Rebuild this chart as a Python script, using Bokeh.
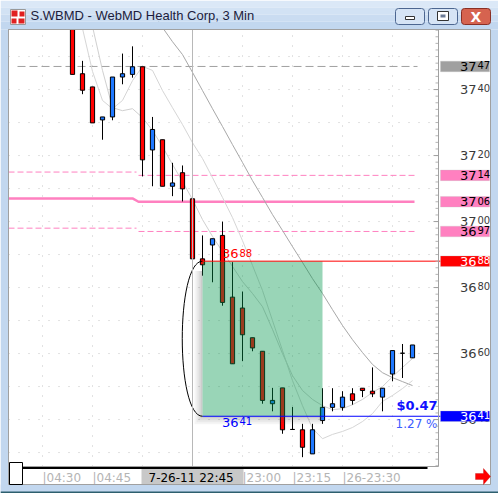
from bokeh.plotting import figure
from bokeh.models import Range1d, BoxAnnotation, Label, PolyAnnotation
from bokeh.core.properties import value
from bokeh.embed import file_html
from bokeh.resources import INLINE

# ---- S.WBMD 3-minute bars (price in cents) ----
bar_index = list(range(35))
open_ = [3760.0, 3744.8, 3740.8, 3730.8, 3731.7, 3743.8, 3744.6, 3746.9, 3721.7, 3724.8,
         3710.7, 3714.8, 3706.9, 3688.7, 3692.9, 3695.8, 3677.1, 3673.8, 3664.8, 3660.7,
         3644.8, 3649.6, 3637.0, 3636.9, 3629.6, 3639.7, 3643.7, 3643.7, 3647.8, 3649.5,
         3648.6, 3646.8, 3653.8, 3660.1, 3658.7]
high = [3760.0, 3748.7, 3740.8, 3731.7, 3743.8, 3750.9, 3753.1, 3746.9, 3731.7, 3724.8,
        3717.8, 3717.0, 3706.9, 3695.8, 3694.8, 3700.0, 3687.7, 3678.8, 3664.8, 3660.7,
        3649.6, 3649.6, 3643.8, 3638.7, 3638.7, 3649.5, 3649.5, 3648.6, 3649.5, 3649.5,
        3655.8, 3649.5, 3660.9, 3662.9, 3662.6]
low = [3744.6, 3738.6, 3729.9, 3724.8, 3730.7, 3741.6, 3743.6, 3713.7, 3710.7, 3710.7,
       3707.7, 3706.1, 3688.7, 3683.6, 3681.6, 3674.5, 3656.9, 3657.7, 3660.7, 3644.8,
       3642.5, 3635.7, 3637.0, 3628.6, 3629.6, 3638.7, 3642.5, 3642.7, 3644.5, 3646.8,
       3646.8, 3642.5, 3651.6, 3652.6, 3658.7]
close = [3744.6, 3739.8, 3729.9, 3731.7, 3743.8, 3744.8, 3746.9, 3718.7, 3727.9, 3710.7,
         3711.7, 3709.9, 3688.7, 3686.9, 3694.8, 3675.5, 3656.9, 3665.7, 3661.7, 3645.8,
         3645.8, 3636.9, 3637.0, 3631.6, 3636.9, 3643.7, 3644.8, 3646.8, 3645.8, 3648.8,
         3647.8, 3649.5, 3660.9, 3660.1, 3662.6]

# ---- moving averages (first bar, values) ----
ma_fast_first = 1
ma_fast = [3758.5, 3745.5, 3736.7, 3734.2, 3736.7, 3742.7, 3747.0, 3745.8, 3739.7, 3734.5,
           3729.4, 3723.9, 3719.1, 3713.3, 3707.3, 3701.2, 3694.2, 3686.7, 3679.1, 3670.0,
           3660.9, 3651.8, 3644.2, 3637.3, 3634.2, 3635.5, 3636.4, 3637.6, 3639.4, 3641.8,
           3645.5, 3647.3, 3649.4, 3651.8]
ma_mid_first = 2
ma_mid = [3759.1, 3745.8, 3734.5, 3733.6, 3734.2, 3731.5, 3727.6, 3722.7, 3717.3, 3712.1,
          3706.7, 3700.6, 3695.5, 3690.9, 3686.4, 3681.8, 3678.2, 3674.2, 3667.3, 3660.0,
          3653.3, 3648.8, 3646.1, 3644.2, 3643.0, 3643.3, 3644.5, 3646.1, 3648.2, 3650.0,
          3653.0, 3655.8, 3658.5]
ma_slow_first = 8
ma_slow = [3763.6, 3758.8, 3754.5, 3750.6, 3745.2, 3739.7, 3734.2, 3728.8, 3723.3, 3717.9,
           3712.4, 3707.3, 3702.1, 3697.3, 3692.4, 3687.6, 3682.7, 3678.2, 3673.3, 3668.5,
           3664.2, 3660.3, 3656.7, 3654.2, 3652.7, 3651.5, 3650.3]

# ---- horizontal levels: today's value and the prior-session value ----
level_prices = [3747, 3714, 3706, 3697]
level_prior = [None, 3715, 3707, 3698]

# ---- measured move ----
move_first_bar, move_last_bar = 13, 25
move_high, move_low = 3688, 3641

# ---- axes ----
price_ticks = [3640, 3660, 3680, 3700, 3720, 3740]
grid_prices = [3630, 3640, 3650, 3660, 3670, 3680, 3690, 3700, 3710, 3720, 3730, 3740, 3750]
grid_bars = [-3, 2, 7, 17, 22, 27, 32]
time_tick_bars = [-3, 2, 17, 22, 27]
time_tick_labels = ["04:30", "04:45", "23:00", "23:15", "26-23:30"]
cursor_bar = 12
cursor_label = "7-26-11 22:45"

TITLE = "S.WBMD - WebMD Health Corp, 3 Min"


# prices are printed as "37" followed by a raised, smaller "40"
def price_parts(v):
    s = str(int(v))
    return s[:2], s[2:]


W, H = 498, 493
# chart pane in page pixels and in bar/price units
PANE_L, PANE_R, PANE_T, PANE_B = 8, 438, 29, 466
BAR_PX, PRICE_PX = 10.0, 3.3
BAR_LEFT = -6.4                      # bar number at the pane's left edge
PRICE_TOP = 3758.2                   # price at the pane's top edge
BAR_RIGHT = BAR_LEFT + (PANE_R - PANE_L) / BAR_PX
PRICE_BOT = PRICE_TOP - (PANE_B - PANE_T) / PRICE_PX


def bar_at(px):
    return BAR_LEFT + (px - PANE_L) / BAR_PX


# the plotting frame covers the whole window; the pane is a region of it
p = figure(width=W, height=H, title=None, output_backend="svg", toolbar_location=None,
           x_range=Range1d(bar_at(0), bar_at(W)),
           y_range=Range1d(PRICE_TOP - (H - PANE_T) / PRICE_PX, PRICE_TOP + PANE_T / PRICE_PX),
           x_axis_type=None, y_axis_type=None, min_border=0,
           min_border_left=0, min_border_right=0, min_border_top=0, min_border_bottom=0)
p.background_fill_color = "white"
p.border_fill_color = "white"
p.outline_line_color = None


def sy(py):
    return H - py


def screen_box(x0, y0, x1, y1, level="overlay", **kw):
    kw.setdefault("line_alpha", 0)
    kw.setdefault("fill_alpha", 1)
    b = BoxAnnotation(left=x0, right=x1, top=sy(y0), bottom=sy(y1),
                      left_units="screen", right_units="screen",
                      top_units="screen", bottom_units="screen", level=level, **kw)
    p.add_layout(b)
    return b


def screen_label(px, py, text, level="overlay", **kw):
    lab = Label(x=px, y=sy(py), x_units="screen", y_units="screen", text=text,
                level=level, **kw)
    p.add_layout(lab)
    return lab


def price_glyph_text(xs, ys, prices, color, big, small, baseline="middle", y_offset=0):
    """Price text as glyphs: xs is where the large digits end."""
    heads = [price_parts(v)[0] for v in prices]
    tails = [price_parts(v)[1] for v in prices]
    p.text(x=xs, y=ys, text=heads, text_color=color, text_font=value("DejaVu Sans"),
           text_font_size=f"{big}px", text_align="right", text_baseline=baseline,
           y_offset=y_offset)
    p.text(x=xs, y=ys, text=tails, text_color=color, text_font=value("DejaVu Sans"),
           text_font_size=f"{small}px", text_align="left", text_baseline=baseline,
           y_offset=y_offset - (big - small) * 0.4, x_offset=1)


# ---- dotted grid, limited to the pane ----
p.segment(x0=[BAR_LEFT] * len(grid_prices), x1=[BAR_RIGHT] * len(grid_prices),
          y0=grid_prices, y1=grid_prices, line_color="#c4c4c4", line_dash="1 9")
p.segment(x0=grid_bars, x1=grid_bars, y0=[PRICE_BOT] * len(grid_bars),
          y1=[PRICE_TOP] * len(grid_bars), line_color="#c4c4c4", line_dash="1 9")

# ---- horizontal levels ----
pink = "#ff80c0"
split_lo, split_hi, right_end = 6.0, 6.6, 34.2
p.line([-5.5, 34.5], [level_prices[0]] * 2, line_color="#a0a0a0", line_dash="8 4")
for i in (1, 3):
    p.line([BAR_LEFT, split_lo + 0.4], [level_prior[i]] * 2, line_color=pink, line_dash="6 3")
    p.line([split_hi, right_end], [level_prices[i]] * 2, line_color=pink, line_dash="6 3")
p.line([BAR_LEFT, split_lo, split_hi, right_end],
       [level_prior[2], level_prior[2], level_prices[2], level_prices[2]],
       line_color=pink, line_width=2.5)

# ---- moving averages ----
for first, vals, col in ((ma_slow_first, ma_slow, "#a8a8a8"),
                         (ma_mid_first, ma_mid, "#d0d0d0"),
                         (ma_fast_first, ma_fast, "#d6d6d6")):
    p.line(list(range(first, first + len(vals))), vals, line_color=col, line_width=1)

# ---- candles ----
colors = ["#1e78ff" if c > o else ("#ff0000" if c < o else "black")
          for o, c in zip(open_, close)]
p.segment(x0=bar_index, y0=high, x1=bar_index, y1=low, line_color="black", line_width=1)
p.vbar(x=bar_index, width=0.42, top=[max(o, c) for o, c in zip(open_, close)],
       bottom=[min(o, c) for o, c in zip(open_, close)],
       fill_color=colors, line_color="black", line_width=1)

# ---- measured-move box with soft shadow ----
shade = [0.30, 0.20, 0.12, 0.06]
for i, a in enumerate(shade):
    p.quad(left=move_first_bar - 0.2 * (i + 1), right=move_first_bar - 0.2 * i,
           top=move_high - 3, bottom=move_low - 0.6 * (i + 1),
           fill_color="#555555", fill_alpha=a, line_alpha=0)
    p.quad(left=move_first_bar - 0.2 * i, right=move_last_bar,
           top=move_low - 0.6 * i, bottom=move_low - 0.6 * (i + 1),
           fill_color="#555555", fill_alpha=a, line_alpha=0)
p.quad(left=move_first_bar, right=move_last_bar, top=move_high, bottom=move_low,
       fill_color=(0, 150, 75), fill_alpha=0.4, line_alpha=0)

p.line([move_first_bar, BAR_RIGHT + 0.2], [move_high] * 2, line_color="#ff0000")
p.line([move_first_bar, BAR_RIGHT + 0.2], [move_low] * 2, line_color="#0000ff")
p.bezier(x0=[move_first_bar], y0=[move_high], x1=[move_first_bar], y1=[move_low],
         cx0=[move_first_bar - 2.7], cy0=[move_high], cx1=[move_first_bar - 2.7],
         cy1=[move_low], line_color="black", line_width=1)

price_glyph_text([bar_at(238)], [move_high], [move_high], "#ff0000", 13, 10,
                 baseline="bottom", y_offset=-3)
price_glyph_text([bar_at(238)], [move_low], [move_low], "#0000ff", 13, 10,
                 baseline="top", y_offset=2)
diff = move_high - move_low
p.text(x=[BAR_RIGHT - 0.1], y=[move_low], text=[f"${diff / 100:.2f}"], text_color="#1010ff",
       text_font=value("DejaVu Sans"), text_font_size="13px", text_font_style="bold",
       text_align="right", text_baseline="bottom", y_offset=-3)
p.text(x=[BAR_RIGHT - 0.1], y=[move_low], text=[f"{diff / move_high * 100:.2f} %"],
       text_color="#3c5cff", text_font=value("DejaVu Sans"), text_font_size="12px",
       text_align="right", text_baseline="top", y_offset=1)

# ---- cursor line ----
p.segment(x0=[cursor_bar], x1=[cursor_bar], y0=[PRICE_BOT], y1=[PRICE_TOP],
          line_color="#b8b8b8", line_width=1)

# ---- price scale on the right of the pane ----
minor = [v for v in range(3626, 3759, 2)]
p.segment(x0=[BAR_RIGHT - 0.3] * len(minor), x1=[BAR_RIGHT] * len(minor),
          y0=minor, y1=minor, line_color="#b4b4b4")
p.segment(x0=[BAR_RIGHT - 0.5] * len(price_ticks), x1=[BAR_RIGHT] * len(price_ticks),
          y0=price_ticks, y1=price_ticks, line_color="#a0a0a0")
price_glyph_text([bar_at(476)] * len(price_ticks), price_ticks, price_ticks, "#3a3a3a", 13, 10)

# value boxes on the price scale
boxes = [(level_prices[0], "#a0a0a0", "black"), (level_prices[1], pink, "black"),
         (level_prices[2], pink, "black"), (level_prices[3], pink, "black"),
         (move_high, "#ff0000", "white"), (move_low, "#0000ff", "white")]
for v, fill, tc in boxes:
    head, tail = price_parts(v)
    p.add_layout(BoxAnnotation(left=440, right=489, top=v + 1.6, bottom=v - 1.6,
                               left_units="screen", right_units="screen",
                               fill_color=fill, fill_alpha=1, line_color="#c0c0c0"))
    p.add_layout(Label(x=476, y=v, x_units="screen", text=head,
                       text_align="right", text_baseline="middle", text_color=tc,
                       text_font="DejaVu Sans", text_font_size="13px"))
    p.add_layout(Label(x=477, y=v, x_units="screen", text=tail, y_offset=1,
                       text_align="left", text_baseline="middle", text_color=tc,
                       text_font="DejaVu Sans", text_font_size="10px"))

# ---- time scale under the pane ----
for b, t in zip(time_tick_bars, time_tick_labels):
    p.add_layout(Label(x=b, y=sy(477), y_units="screen", text="|" + t,
                       text_align="left", text_baseline="middle", text_color="#b4b4b4",
                       text_font="DejaVu Sans", text_font_size="12px"))
p.add_layout(BoxAnnotation(left=6.9, right=17.1, top=sy(468), bottom=sy(487),
                           top_units="screen", bottom_units="screen",
                           fill_color="#c8c8c8", fill_alpha=1, line_alpha=0))
p.add_layout(Label(x=7.6, y=sy(477), y_units="screen", text=cursor_label,
                   text_align="left", text_baseline="middle", text_color="black",
                   text_font="DejaVu Sans", text_font_size="12px"))

# ---- window chrome ----
band = "#c2d7ef"
for y0, y1, col in ((0, 7, "#dbe8f7"), (7, 14, "#d2e2f4"), (14, 21, "#cadcf1"),
                    (21, 29, "#c2d7ef")):
    screen_box(0, y0, W, y1, fill_color=col)
screen_box(0, 29, PANE_L, H, fill_color=band)
screen_box(490, 29, W, H, fill_color=band)
screen_box(0, 484, W, H, fill_color=band)
screen_box(0, 491, W, H, fill_color="#2d5f6e")
screen_box(PANE_L, PANE_T, 490, 484, fill_alpha=0, line_alpha=1, line_color="#a0a0a0")
screen_box(PANE_L, PANE_T, PANE_R, PANE_B, fill_alpha=0, line_alpha=1, line_color="#a0a0a0")

# scroll track, thumb and forward arrow
screen_box(22, 466.5, 427, 468.5, fill_color="black")
screen_box(9, 462, 22, 484, fill_color="white", line_alpha=1, line_color="black")
p.add_layout(PolyAnnotation(xs=[475, 483, 483, 490, 483, 483, 475],
                            ys=[sy(v) for v in (473, 473, 468, 476, 484, 479, 479)],
                            xs_units="screen", ys_units="screen", level="overlay",
                            fill_color="#ff0000", fill_alpha=1, line_color="#b00000"))

# icon
screen_box(10, 9, 25, 24, fill_color="white", line_alpha=1, line_color="#999999")
for x0, y0, x1, y1 in ((11, 10, 17, 16), (19, 11, 24, 16), (11, 18, 16, 23), (18, 18, 24, 23)):
    screen_box(x0, y0, x1, y1, fill_color="#e02020")
screen_label(30, 15, TITLE, text_baseline="middle", text_color="#1c1c3c",
             text_font="Liberation Sans", text_font_size="13px")

# caption buttons
screen_box(395, 8, 424, 24, fill_color="#d6e4f5", line_alpha=1, line_color="#4c6690",
           border_radius=3)
screen_box(405, 16, 414, 19, fill_color="white", line_alpha=1, line_color="#333333")
screen_box(428, 8, 457, 24, fill_color="#d6e4f5", line_alpha=1, line_color="#4c6690",
           border_radius=3)
screen_box(437, 11, 448, 20, fill_color="white", line_alpha=1, line_color="#333333")
screen_box(440, 14, 445, 17, fill_color="#6a7a96")
screen_box(461, 8, 490, 24, fill_color="#d6634f", line_alpha=1, line_color="#8a2f24",
           border_radius=3)
screen_label(475.5, 16, "X", text_align="center", text_baseline="middle", text_color="white",
             text_font="DejaVu Sans", text_font_style="bold", text_font_size="14px")

open("out.html", "w").write(file_html(p, INLINE))
